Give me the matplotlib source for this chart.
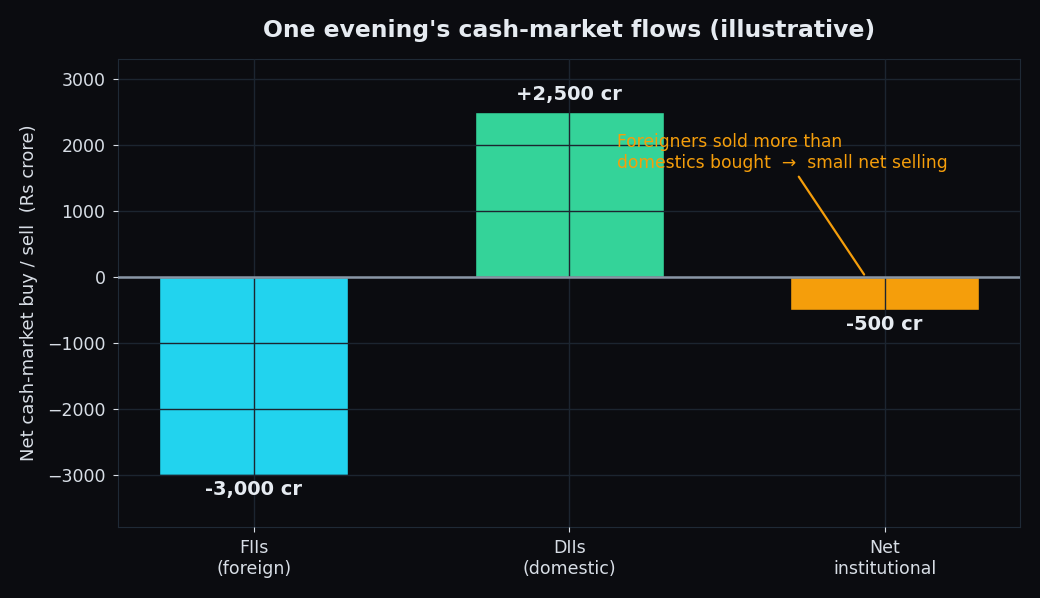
import matplotlib
matplotlib.use("Agg")
import matplotlib.pyplot as plt

plt.rcParams["font.family"] = ["DejaVu Sans"]

categories = ["FIIs\n(foreign)", "DIIs\n(domestic)", "Net\ninstitutional"]
values = [-3000, 2500, -500]
labels = ["-3,000 cr", "+2,500 cr", "-500 cr"]
colors = ["#22d3ee", "#34d399", "#f59e0b"]

BG = "#0b0c10"
TXT = "#e6ebf1"
GRID = "#1c2530"

fig, ax = plt.subplots(figsize=(10.4, 5.98), dpi=100)
fig.patch.set_facecolor(BG)
ax.set_facecolor(BG)

x = list(range(len(categories)))
ax.bar(x, values, width=0.6, color=colors, edgecolor=BG, linewidth=1.0, zorder=2)
ax.axhline(0, color="#8a97a6", linewidth=1.8, zorder=3)

for xi, v, lab in zip(x, values, labels):
    ax.annotate(lab, (xi, v), xytext=(0, 5.5 if v > 0 else -4), textcoords="offset points",
                ha="center", va="bottom" if v > 0 else "top",
                fontsize=14, fontweight="bold", color=TXT, zorder=4)

ax.annotate("Foreigners sold more than\ndomestics bought  \u2192  small net selling",
            xy=(1.94, 0), xytext=(1.152, 1890), ha="left", va="center",
            fontsize=12.3, color="#f59e0b",
            arrowprops=dict(arrowstyle="-", color="#f59e0b", lw=1.6), zorder=5)

ax.set_xticks(x)
ax.set_xticklabels(categories)
ax.set_ylim(-3790, 3300)
ax.set_yticks([-3000, -2000, -1000, 0, 1000, 2000, 3000])
ax.set_yticklabels(["\u22123000", "\u22122000", "\u22121000", "0", "1000", "2000", "3000"])
ax.tick_params(colors="#d8dee6", labelsize=12.5, pad=5.5)
ax.set_ylabel("Net cash-market buy / sell  (Rs crore)", color="#d8dee6", fontsize=13, labelpad=6.5)
ax.set_title("One evening's cash-market flows (illustrative)", color=TXT,
             fontsize=16.9, fontweight="bold", pad=16)
ax.grid(True, color=GRID, linewidth=1.0)
ax.set_axisbelow(False)
for s in ax.spines.values():
    s.set_color("#1f2a36")

fig.subplots_adjust(left=0.1135, right=0.981, top=0.901, bottom=0.119)
fig.savefig("out.png", dpi=100, facecolor=BG)
